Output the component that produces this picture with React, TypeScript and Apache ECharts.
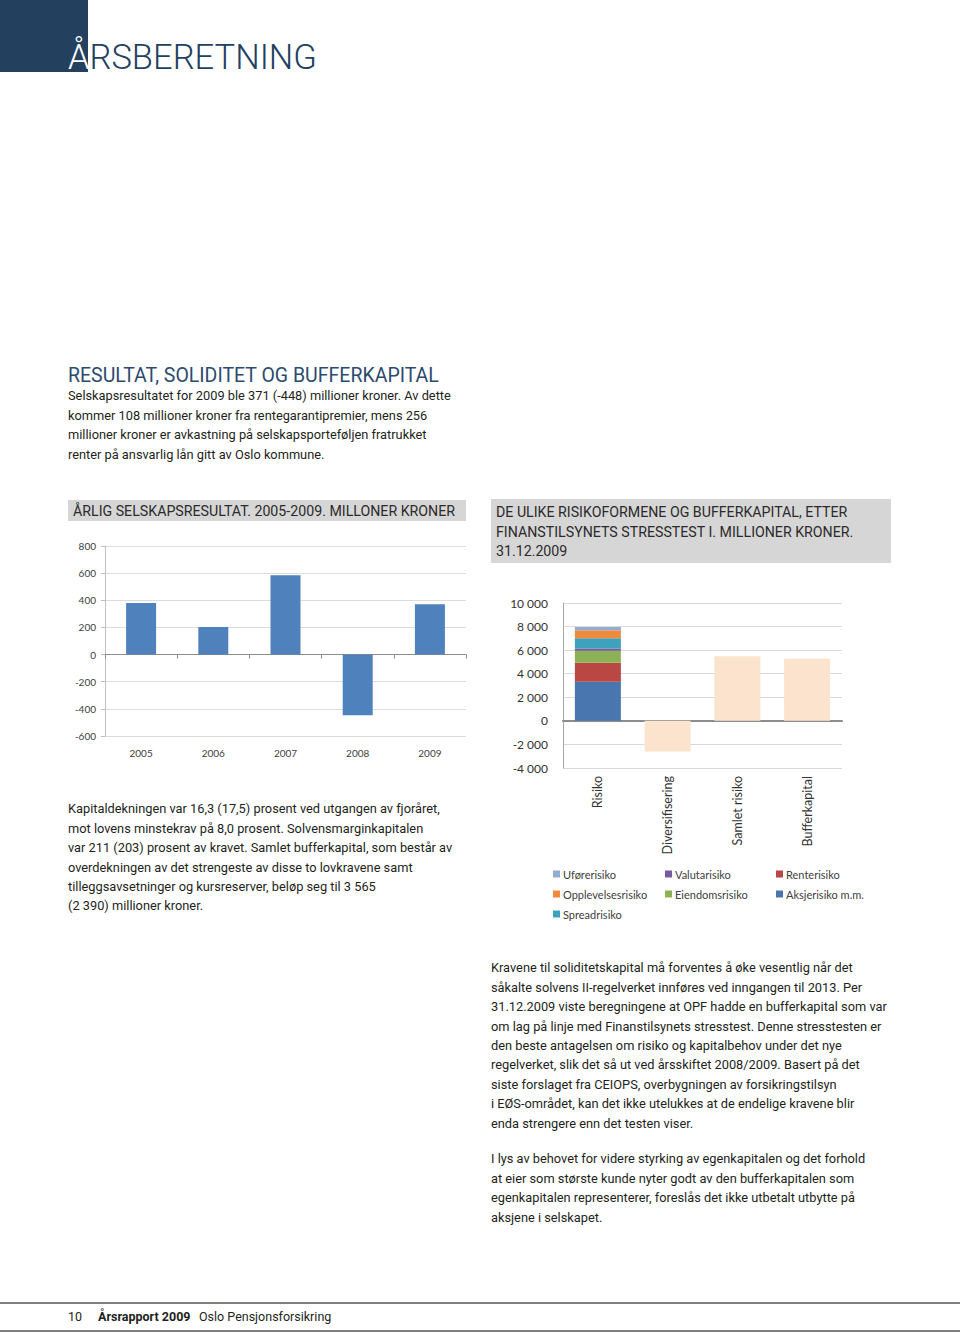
import React, { useEffect, useRef } from "react";
import * as echarts from "echarts";

// ---------- Data ----------
const resultYears = ["2005", "2006", "2007", "2008", "2009"];
const resultValues = [380, 203, 585, -448, 371];

const riskCategories = ["Risiko", "Diversifisering", "Samlet risiko", "Bufferkapital"];
// stacked components of "Risiko" (bottom to top)
const riskComponentNames = [
  "Aksjerisiko m.m.",
  "Renterisiko",
  "Eiendomsrisiko",
  "Valutarisiko",
  "Spreadrisiko",
  "Opplevelsesrisiko",
  "Uførerisiko",
];
const riskComponentValues = [3320, 1610, 1020, 200, 850, 680, 280];
// Diversifisering, Samlet risiko, Bufferkapital
const summaryValues = [-2600, 5480, 5280];

const legendColumns = [
  ["Uførerisiko", "Opplevelsesrisiko", "Spreadrisiko"],
  ["Valutarisiko", "Eiendomsrisiko"],
  ["Renterisiko", "Aksjerisiko m.m."],
];

// ---------- Styles ----------
const riskColors = ["#4A76B0", "#B94744", "#8DB255", "#7659A0", "#3FA2BD", "#EE8B3E", "#92ACD2"];
const summaryColor = "#FBE3CE";
const resultColor = "#4F81BD";
const navy = "#23405F";
const textColor = "#231F20";
const PAGE_FONT = "Roboto, 'DejaVu Sans', sans-serif";
const CHART_FONT = "Lato, 'Liberation Sans', sans-serif";
const BODY_SIZE = 12.8;

const para1 = [
  "Selskapsresultatet for 2009 ble 371 (-448) millioner kroner. Av dette",
  "kommer 108 millioner kroner fra rentegarantipremier, mens 256",
  "millioner kroner er avkastning på selskapsporteføljen fratrukket",
  "renter på ansvarlig lån gitt av Oslo kommune.",
];
const para2 = [
  "Kapitaldekningen var 16,3 (17,5) prosent ved utgangen av fjoråret,",
  "mot lovens minstekrav på 8,0 prosent. Solvensmarginkapitalen",
  "var 211 (203) prosent av kravet. Samlet bufferkapital, som består av",
  "overdekningen av det strengeste av disse to lovkravene samt",
  "tilleggsavsetninger og kursreserver, beløp seg til 3 565",
  "(2 390) millioner kroner.",
];
const para3 = [
  "Kravene til soliditetskapital må forventes å øke vesentlig når det",
  "såkalte solvens II-regelverket innføres ved inngangen til 2013. Per",
  "31.12.2009 viste beregningene at OPF hadde en bufferkapital som var",
  "om lag på linje med Finanstilsynets stresstest. Denne stresstesten er",
  "den beste antagelsen om risiko og kapitalbehov under det nye",
  "regelverket, slik det så ut ved årsskiftet 2008/2009. Basert på det",
  "siste forslaget fra CEIOPS, overbygningen av forsikringstilsyn",
  "i EØS-området, kan det ikke utelukkes at de endelige kravene blir",
  "enda strengere enn det testen viser.",
];
const para4 = [
  "I lys av behovet for videre styrking av egenkapitalen og det forhold",
  "at eier som største kunde nyter godt av den bufferkapitalen som",
  "egenkapitalen representerer, foreslås det ikke utbetalt utbytte på",
  "aksjene i selskapet.",
];

function txt(x: number, y: number, text: string, opts: any = {}) {
  return {
    type: "text",
    x,
    y,
    silent: true,
    style: {
      text,
      fill: opts.fill || textColor,
      fontSize: opts.fontSize || BODY_SIZE,
      fontFamily: opts.fontFamily || PAGE_FONT,
      fontWeight: opts.fontWeight || "normal",
      lineHeight: opts.lineHeight,
      align: "left",
      verticalAlign: opts.lineHeight ? "top" : "middle",
      textAlign: "left",
      textVerticalAlign: opts.lineHeight ? "top" : "middle",
    },
  };
}

function paragraph(x: number, firstCenterY: number, lines: string[]) {
  const lh = 19.4;
  return txt(x, firstCenterY - lh / 2, lines.join("\n"), { lineHeight: lh });
}

function fmtThousands(v: number) {
  const s = String(Math.abs(v)).replace(/\B(?=(\d{3})+(?!\d))/g, " ");
  return (v < 0 ? "-" : "") + s;
}

export default function App() {
  const ref = useRef<HTMLDivElement>(null);

  useEffect(() => {
    const chart = echarts.init(ref.current!, null, { renderer: "svg" });

    const riskSeries = riskComponentNames.map((name, i) => ({
      type: "bar",
      name,
      stack: "risk",
      xAxisIndex: 2,
      yAxisIndex: 1,
      barWidth: 46,
      itemStyle: { color: riskColors[i] },
      data: [riskComponentValues[i], "-", "-", "-"],
    }));

    const headerStyle = { fontSize: 14.2, fill: "#2A2A2A" };

    const option: any = {
      animation: false,
      backgroundColor: "#ffffff",
      textStyle: { fontFamily: CHART_FONT },
      grid: [
        { left: 105, top: 546, width: 361, height: 190 },
        { left: 563, top: 603, width: 279, height: 165 },
      ],
      legend: legendColumns.map((col, i) => ({
        data: col,
        orient: "vertical",
        left: [553, 665, 776][i],
        top: 867,
        padding: 0,
        itemWidth: 7,
        itemHeight: 7,
        itemGap: 6,
        icon: "rect",
        selectedMode: false,
        textStyle: { fontSize: 11, color: "#404040", lineHeight: 14, fontFamily: CHART_FONT, padding: [0, 0, 0, -2] },
      })),
      xAxis: [
        {
          gridIndex: 0,
          type: "category",
          data: resultYears,
          position: "bottom",
          axisLine: { onZero: true, lineStyle: { color: "#8C8C8C", width: 1 } },
          axisTick: { show: true, length: 4, lineStyle: { color: "#8C8C8C" } },
          axisLabel: { show: false },
          splitLine: { show: false },
        },
        {
          gridIndex: 0,
          type: "category",
          data: resultYears,
          position: "bottom",
          axisLine: { show: false, onZero: false },
          axisTick: { show: false },
          axisLabel: { fontSize: 10, color: "#404040", margin: 12, fontFamily: CHART_FONT },
        },
        {
          gridIndex: 1,
          type: "category",
          data: riskCategories,
          position: "bottom",
          axisLine: { onZero: true, lineStyle: { color: "#8C8C8C", width: 2 } },
          axisTick: { show: false },
          axisLabel: { show: false },
        },
        {
          gridIndex: 1,
          type: "category",
          data: riskCategories,
          position: "bottom",
          axisLine: { show: false, onZero: false },
          axisTick: { show: false },
          axisLabel: { rotate: 90, fontSize: 12.5, color: "#333333", margin: 8, fontFamily: CHART_FONT },
        },
      ],
      yAxis: [
        {
          gridIndex: 0,
          type: "value",
          min: -600,
          max: 800,
          interval: 200,
          axisLine: { show: true, lineStyle: { color: "#BFBFBF" } },
          axisTick: { show: true, length: 4, lineStyle: { color: "#BFBFBF" } },
          splitLine: { lineStyle: { color: "#DCDCDC" } },
          axisLabel: { fontSize: 10, color: "#404040", margin: 9, fontFamily: CHART_FONT },
        },
        {
          gridIndex: 1,
          type: "value",
          min: -4000,
          max: 10000,
          interval: 2000,
          axisLine: { show: true, lineStyle: { color: "#A6A6A6" } },
          axisTick: { show: false },
          splitLine: { lineStyle: { color: "#D9D9D9" } },
          axisLabel: {
            fontSize: 12,
            color: "#333333",
            margin: 15,
            fontFamily: CHART_FONT,
            formatter: (v: number) => fmtThousands(v),
          },
        },
      ],
      series: [
        {
          type: "bar",
          name: "Selskapsresultat",
          xAxisIndex: 0,
          yAxisIndex: 0,
          barWidth: 30,
          itemStyle: { color: resultColor },
          data: resultValues,
        },
        ...riskSeries,
        {
          type: "bar",
          name: "Sum",
          stack: "risk",
          xAxisIndex: 2,
          yAxisIndex: 1,
          barWidth: 46,
          itemStyle: { color: summaryColor },
          data: ["-", ...summaryValues],
        },
      ],
      graphic: [
        { type: "rect", silent: true, shape: { x: 0, y: 0, width: 88, height: 72 }, style: { fill: navy } },
        txt(68, 57, "Å", { fontSize: 34.5, fontWeight: 300, fill: "#ffffff" }),
        txt(89.5, 57, "RSBERETNING", { fontSize: 34.5, fontWeight: 300, fill: navy }),
        txt(68, 375, "RESULTAT, SOLIDITET OG BUFFERKAPITAL", { fontSize: 19.5, fill: "#2B4B6F" }),
        paragraph(68, 396, para1),
        { type: "rect", silent: true, shape: { x: 68, y: 500, width: 398, height: 21 }, style: { fill: "#D6D6D6" } },
        txt(73, 511, "ÅRLIG SELSKAPSRESULTAT. 2005-2009. MILLONER KRONER", headerStyle),
        { type: "rect", silent: true, shape: { x: 491, y: 499, width: 400, height: 64 }, style: { fill: "#D6D6D6" } },
        txt(496, 512, "DE ULIKE RISIKOFORMENE OG BUFFERKAPITAL, ETTER", headerStyle),
        txt(496, 532, "FINANSTILSYNETS STRESSTEST I. MILLIONER KRONER.", headerStyle),
        txt(496, 551, "31.12.2009", headerStyle),
        paragraph(68, 809, para2),
        paragraph(491, 968, para3),
        paragraph(491, 1159, para4),
        { type: "line", silent: true, shape: { x1: 0, y1: 1303, x2: 960, y2: 1303 }, style: { stroke: "#7F7F7F", lineWidth: 2 } },
        { type: "line", silent: true, shape: { x1: 0, y1: 1331, x2: 960, y2: 1331 }, style: { stroke: "#7F7F7F", lineWidth: 2 } },
        txt(68, 1316, "10", { fontSize: 12.5 }),
        txt(98, 1316, "Årsrapport 2009", { fontSize: 12.5, fontWeight: "bold" }),
        txt(199, 1316, "Oslo Pensjonsforsikring", { fontSize: 12.5 }),
      ],
    };

    chart.setOption(option);
    return () => chart.dispose();
  }, []);

  return (
    <div
      ref={ref}
      style={{ position: "absolute", left: 0, top: 0, width: 960, height: 1333, background: "#ffffff" }}
    />
  );
}
